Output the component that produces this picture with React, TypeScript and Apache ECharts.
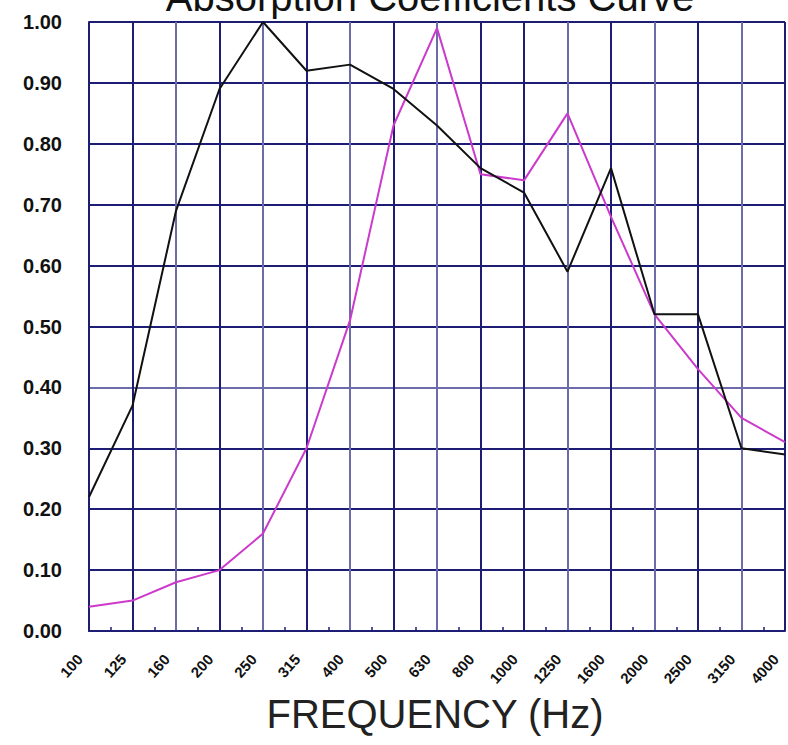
import React, { useEffect, useRef } from "react";
import * as echarts from "echarts";

const frequencies = ["100", "125", "160", "200", "250", "315", "400", "500", "630", "800", "1000", "1250", "1600", "2000", "2500", "3150", "4000"];
const blackCurve = [0.22, 0.37, 0.69, 0.89, 1.0, 0.92, 0.93, 0.89, 0.83, 0.76, 0.72, 0.59, 0.76, 0.52, 0.52, 0.3, 0.29];
const magentaCurve = [0.04, 0.05, 0.08, 0.1, 0.16, 0.3, 0.51, 0.83, 0.99, 0.75, 0.74, 0.85, 0.68, 0.52, 0.43, 0.35, 0.31];
const titleText = "Absorption Coefficients Curve";
const xAxisTitle = "FREQUENCY (Hz)";

const DARK = "#1d1d76";
const LIGHT = "#6c6cab";

export default function App() {
  const ref = useRef<HTMLDivElement>(null);
  useEffect(() => {
    if (!ref.current) return;
    const chart = echarts.init(ref.current, null, { renderer: "svg" });
    const vColors = [DARK, DARK, LIGHT, DARK, LIGHT, DARK, LIGHT, DARK, LIGHT, DARK, DARK, LIGHT, DARK, LIGHT, DARK, LIGHT, DARK];
    const hColors = [DARK, DARK, DARK, DARK, LIGHT, DARK, DARK, DARK, DARK, DARK, DARK];
    chart.setOption({
      animation: false,
      backgroundColor: "#ffffff",
      grid: { left: 89, top: 22, right: 3, bottom: 114, containLabel: false },
      xAxis: {
        type: "value",
        min: 0,
        max: frequencies.length - 1,
        interval: 1,
        axisLine: { show: true, lineStyle: { color: DARK, width: 2 } },
        axisTick: { show: false, inside: true },
        minorTick: { show: true, splitNumber: 2, length: 4, lineStyle: { color: DARK, width: 1.5 } },
        minorSplitLine: { show: false },
        splitLine: { show: true, lineStyle: { color: vColors, width: 2 } },
        axisLabel: {
          rotate: 48,
          margin: 15,
          padding: [0, 14, 0, 0],
          fontSize: 15,
          fontWeight: "bold",
          fontFamily: "Liberation Sans, Arial, sans-serif",
          color: "#111",
          formatter: (v: number) => frequencies[Math.round(v)] ?? "",
        },
      },
      yAxis: {
        type: "value",
        min: 0,
        max: 1,
        interval: 0.1,
        axisLine: { show: true, lineStyle: { color: DARK, width: 2 } },
        axisTick: { show: false },
        splitLine: { show: true, lineStyle: { color: hColors, width: 2 } },
        axisLabel: {
          margin: 27,
          fontSize: 20,
          fontWeight: "bold",
          fontFamily: "Liberation Sans, Arial, sans-serif",
          color: "#111",
          formatter: (v: number) => v.toFixed(2),
        },
      },
      series: [
        {
          type: "line",
          data: magentaCurve.map((v, i) => [i, v]),
          showSymbol: false,
          lineStyle: { color: "#cc3acc", width: 2 },
          z: 3,
        },
        {
          type: "line",
          data: blackCurve.map((v, i) => [i, v]),
          showSymbol: false,
          lineStyle: { color: "#111111", width: 2 },
          z: 4,
        },
      ],
      graphic: [
        {
          type: "text",
          x: 430,
          y: -3,
          style: {
            text: titleText,
            fontSize: 40,
            fontFamily: "Liberation Sans, Arial, sans-serif",
            fill: "#111",
            align: "center",
            verticalAlign: "middle",
          },
        },
        {
          type: "text",
          x: 435,
          y: 714,
          style: {
            text: xAxisTitle,
            fontSize: 40,
            fontFamily: "Liberation Sans, Arial, sans-serif",
            fill: "#222",
            align: "center",
            verticalAlign: "middle",
          },
        },
      ],
    });
    return () => chart.dispose();
  }, []);
  return <div ref={ref} style={{ position: "fixed", left: 0, top: 0, width: 788, height: 745 }} />;
}
